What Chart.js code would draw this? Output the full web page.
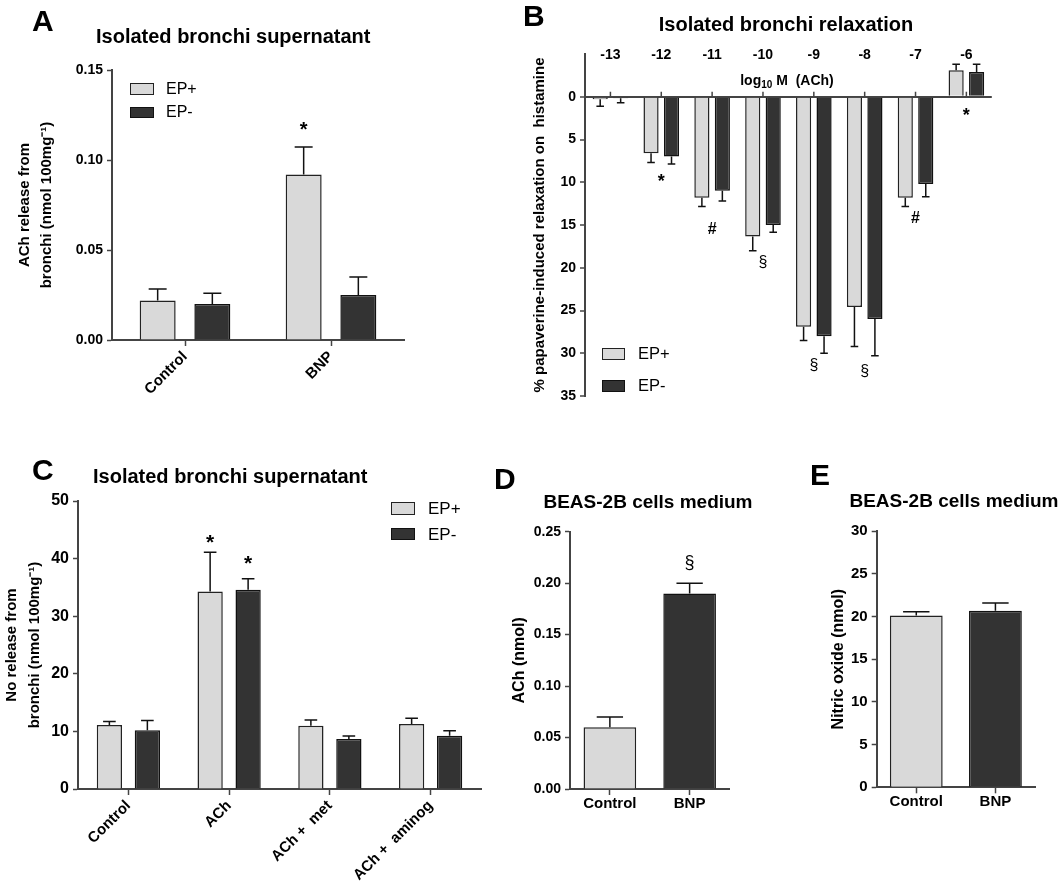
<!DOCTYPE html>
<html>
<head>
<meta charset="utf-8">
<script src="https://cdn.jsdelivr.net/npm/chart.js@4.4.1/dist/chart.umd.min.js"></script>
<style>
  body { margin: 0; background: #fff; }
  #fig { position: relative; width: 1063px; height: 896px; overflow: hidden;
         font-family: Arial, "Liberation Sans", sans-serif; color: #000; }
  #fig canvas { position: absolute; }
  .t { position: absolute; white-space: nowrap; line-height: 1; font-weight: bold; }
  .c { text-align: center; width: 400px; }
  .lg { position: absolute; white-space: nowrap; line-height: 1; }
  .bx { position: absolute; box-sizing: border-box; border: 1.5px solid #222; }
  sub { font-size: 10px; vertical-align: -3px; line-height: 0; }
</style>
</head>
<body>
<div id="fig">
  <canvas id="cA" width="480" height="430" style="left:0;top:0"></canvas>
  <canvas id="cB" width="540" height="430" style="left:500px;top:0"></canvas>
  <canvas id="cC" width="500" height="456" style="left:0;top:440px"></canvas>
  <canvas id="cD" width="260" height="456" style="left:490px;top:440px"></canvas>
  <canvas id="cE" width="273" height="456" style="left:790px;top:440px"></canvas>

  <div class="t" style="left:32px;top:6px;font-size:30px">A</div>
  <div class="t" style="left:523px;top:1px;font-size:30px">B</div>
  <div class="t" style="left:32px;top:455px;font-size:30px">C</div>
  <div class="t" style="left:494px;top:464px;font-size:30px">D</div>
  <div class="t" style="left:810px;top:460px;font-size:30px">E</div>

  <div class="t" style="left:96px;top:26px;font-size:20px">Isolated bronchi supernatant</div>
  <div class="t c" style="left:586px;top:14px;font-size:20px">Isolated bronchi relaxation</div>
  <div class="t" style="left:93px;top:466px;font-size:20px">Isolated bronchi supernatant</div>
  <div class="t c" style="left:448px;top:492px;font-size:19px">BEAS-2B cells medium</div>
  <div class="t c" style="left:754px;top:491px;font-size:19px">BEAS-2B cells medium</div>
  <div class="t c" style="left:587px;top:73px;font-size:14px">log<sub>10</sub> M&nbsp;&nbsp;(ACh)</div>

  <!-- legends -->
  <div class="bx" style="left:130px;top:83px;width:24px;height:11.5px;background:#d9d9d9"></div>
  <div class="bx" style="left:130px;top:106.5px;width:24px;height:11.5px;background:#333;border-color:#111"></div>
  <div class="lg" style="left:166px;top:81px;font-size:16px">EP+</div>
  <div class="lg" style="left:166px;top:104px;font-size:16px">EP-</div>

  <div class="bx" style="left:602px;top:347.5px;width:23px;height:12px;background:#d9d9d9"></div>
  <div class="bx" style="left:602px;top:379.5px;width:23px;height:12px;background:#333;border-color:#111"></div>
  <div class="lg" style="left:638px;top:345px;font-size:16.5px">EP+</div>
  <div class="lg" style="left:638px;top:377px;font-size:16.5px">EP-</div>

  <div class="bx" style="left:391px;top:502px;width:23.5px;height:12.5px;background:#d9d9d9"></div>
  <div class="bx" style="left:391px;top:527.5px;width:23.5px;height:12.5px;background:#333;border-color:#111"></div>
  <div class="lg" style="left:428px;top:500px;font-size:17px">EP+</div>
  <div class="lg" style="left:428px;top:525.5px;font-size:17px">EP-</div>
</div>

<script>
const LIGHT = '#d9d9d9';
const DARK = '#333333';
const AXIS = '#444444';

// A - ACh release, isolated bronchi
const aCats = ['Control', 'BNP'];
const aEpPlus = [0.022, 0.092];
const aEpPlusSem = [0.0064, 0.0152];
const aEpMinus = [0.020, 0.025];
const aEpMinusSem = [0.006, 0.010];

// B - relaxation vs log10 M ACh
const bCats = ['-13', '-12', '-11', '-10', '-9', '-8', '-7', '-6'];
const bEpPlus = [0.3, 6.6, 11.8, 16.35, 26.9, 24.6, 11.8, -3.1];
const bEpPlusSem = [0.8, 1.1, 1.05, 1.65, 1.6, 4.6, 1.05, 0.7];
const bEpMinus = [0.19, 7.0, 11.0, 15.0, 28.0, 26.0, 10.2, -2.9];
const bEpMinusSem = [0.5, 0.86, 1.2, 0.85, 2.0, 4.3, 1.5, 0.9];

// C - NO release, isolated bronchi
const cCats = ['Control', 'ACh', 'ACh +  met', 'ACh +  aminog'];
const cEpPlus = [11.1, 34.3, 11.0, 11.3];
const cEpPlusSem = [0.6, 6.8, 1.0, 1.0];
const cEpMinus = [10.2, 34.6, 8.7, 9.25];
const cEpMinusSem = [1.7, 1.9, 0.5, 0.85];

// D - ACh, BEAS-2B
const dCats = ['Control', 'BNP'];
const dVals = [0.06, 0.19];
const dSem = [0.01, 0.01];

// E - nitric oxide, BEAS-2B
const eCats = ['Control', 'BNP'];
const eVals = [20.1, 20.67];
const eSem = [0.46, 0.9];

Chart.defaults.font.family = 'Arial, "Liberation Sans", sans-serif';
Chart.defaults.color = '#000';

const errorBars = {
  id: 'errorBars',
  afterDatasetsDraw(chart) {
    const ctx = chart.ctx;
    const y = chart.scales.y;
    chart.data.datasets.forEach((ds, di) => {
      if (!ds.sem) return;
      chart.getDatasetMeta(di).data.forEach((bar, i) => {
        const v = ds.data[i];
        const end = y.getPixelForValue(v + (v < 0 ? -1 : 1) * ds.sem[i]);
        const cap = bar.width * 0.25;
        ctx.save();
        ctx.strokeStyle = '#111';
        ctx.lineWidth = 1.5;
        ctx.beginPath();
        ctx.moveTo(bar.x, bar.y);
        ctx.lineTo(bar.x, end);
        ctx.moveTo(bar.x - cap, end);
        ctx.lineTo(bar.x + cap, end);
        ctx.stroke();
        ctx.restore();
      });
    });
  }
};

// significance symbols, placed on the value scale
const marks = {
  id: 'marks',
  afterDatasetsDraw(chart, args, opts) {
    if (!opts.items) return;
    const ctx = chart.ctx;
    const x = chart.scales.x, y = chart.scales.y;
    opts.items.forEach(m => {
      const px = m.ds == null ? x.getPixelForValue(m.i) : chart.getDatasetMeta(m.ds).data[m.i].x;
      const size = m.size || 18;
      const dy = m.t === '*' ? size * 0.23 : 0;
      ctx.save();
      ctx.font = (m.bold ? 'bold ' : '') + size + 'px Arial, "Liberation Sans", sans-serif';
      ctx.fillStyle = '#000';
      ctx.textAlign = 'center';
      ctx.textBaseline = 'middle';
      ctx.fillText(m.t, px, y.getPixelForValue(m.v) + dy);
      ctx.restore();
    });
  }
};

// small upward ticks on the zero line of panel B
const zeroTicks = {
  id: 'zeroTicks',
  afterDatasetsDraw(chart) {
    const ctx = chart.ctx;
    const x = chart.scales.x, y = chart.scales.y;
    const y0 = y.getPixelForValue(0);
    ctx.save();
    ctx.strokeStyle = AXIS;
    ctx.lineWidth = 1.5;
    ctx.beginPath();
    x.ticks.forEach((t, i) => {
      const px = x.getPixelForTick(i);
      ctx.moveTo(px, y0 - 5);
      ctx.lineTo(px, y0);
    });
    ctx.stroke();
    ctx.restore();
  }
};

const bold = size => ({ size: size, weight: 'bold' });

const xAxis = (fontSize, rot, height, pad) => ({
  grid: { display: true, drawOnChartArea: false, offset: false, tickLength: 6, tickColor: AXIS, tickWidth: 1.5 },
  border: { color: AXIS, width: 2 },
  ticks: { font: bold(fontSize), color: '#000', minRotation: rot, maxRotation: rot, padding: pad, autoSkip: false },
  afterFit: s => { s.height = height; }
});

const yAxis = (min, max, step, dec, fontSize, title, titleSize, lh, width) => ({
  min: min, max: max,
  ticks: { stepSize: step, font: bold(fontSize), color: '#000', padding: 4,
           callback: v => v.toFixed(dec) },
  grid: { display: true, drawOnChartArea: false, tickLength: 5, tickColor: AXIS, tickWidth: 1.5 },
  border: { color: AXIS, width: 2 },
  title: { display: true, text: title, font: { size: titleSize, weight: 'bold', lineHeight: lh }, padding: 0, color: '#000' },
  afterFit: s => { s.width = width; }
});

const pairSets = (plus, plusSem, minus, minusSem, cp, bp) => [
  { label: 'EP+', data: plus, sem: plusSem, backgroundColor: LIGHT, borderColor: '#222',
    borderWidth: 1.5, categoryPercentage: cp, barPercentage: bp },
  { label: 'EP-', data: minus, sem: minusSem, backgroundColor: DARK, borderColor: '#111',
    borderWidth: 1.5, categoryPercentage: cp, barPercentage: bp }
];

const baseOpts = (padding, items) => ({
  responsive: false,
  animation: false,
  layout: { padding: padding },
  plugins: { legend: { display: false }, tooltip: { enabled: false }, marks: { items: items } }
});

// A
new Chart(document.getElementById('cA'), {
  type: 'bar',
  data: { labels: aCats, datasets: pairSets(aEpPlus, aEpPlusSem, aEpMinus, aEpMinusSem, 0.749, 0.658) },
  options: Object.assign(baseOpts({ left: 14, top: 70, right: 76, bottom: 0 },
    [{ ds: 0, i: 1, v: 0.119, t: '*', size: 20, bold: true }]), {
    scales: {
      x: xAxis(15, 45, 90, 2),
      y: yAxis(0, 0.15, 0.05, 2, 14, ['ACh release from', 'bronchi (nmol 100mg\u207B\u00B9)'], 15, 1.45, 98)
    }
  }),
  plugins: [errorBars, marks]
});

// B
const bY = yAxis(-5, 35, 5, 0, 14, '% papaverine-induced relaxation on  histamine', 15, 1.2, 54);
bY.reverse = true;
bY.ticks.callback = v => (v < 0 ? '' : String(v));
bY.grid = {
  display: true, drawOnChartArea: true, tickLength: 5, tickWidth: 1.5, lineWidth: 2,
  color: c => (c.tick && c.tick.value === 0 ? AXIS : 'rgba(0,0,0,0)'),
  tickColor: c => (c.tick && c.tick.value < 0 ? 'rgba(0,0,0,0)' : AXIS)
};
new Chart(document.getElementById('cB'), {
  type: 'bar',
  data: { labels: bCats, datasets: pairSets(bEpPlus, bEpPlusSem, bEpMinus, bEpMinusSem, 0.805, 0.74) },
  options: Object.assign(baseOpts({ left: 31, top: 54, right: 48.2, bottom: 34 }, [
    { i: 1, v: 9.47, t: '*', size: 18, bold: true },
    { i: 2, v: 15.5, t: '#', size: 16, bold: true },
    { i: 3, v: 19.4, t: '\u00A7', size: 16 },
    { i: 4, v: 31.5, t: '\u00A7', size: 16 },
    { i: 5, v: 32.1, t: '\u00A7', size: 16 },
    { i: 6, v: 14.2, t: '#', size: 16, bold: true },
    { i: 7, v: 1.75, t: '*', size: 18, bold: true }
  ]), {
    scales: {
      x: {
        position: 'top',
        grid: { display: false, drawTicks: false },
        border: { display: false },
        ticks: { font: bold(14), color: '#000', mirror: true, padding: -7, maxRotation: 0, autoSkip: false },
        afterFit: s => { s.height = 0; }
      },
      y: bY
    }
  }),
  plugins: [errorBars, marks, zeroTicks]
});

// C
new Chart(document.getElementById('cC'), {
  type: 'bar',
  data: { labels: cCats, datasets: pairSets(cEpPlus, cEpPlusSem, cEpMinus, cEpMinusSem, 0.754, 0.665) },
  options: Object.assign(baseOpts({ left: 0, top: 61, right: 19, bottom: 0 }, [
    { ds: 0, i: 1, v: 43.5, t: '*', size: 21, bold: true },
    { ds: 1, i: 1, v: 39.8, t: '*', size: 21, bold: true }
  ]), {
    scales: {
      x: xAxis(15, 45, 107, 2),
      y: yAxis(0, 50, 10, 0, 16, ['No release from', 'bronchi (nmol 100mg\u207B\u00B9)'], 15, 1.55, 78)
    }
  }),
  plugins: [errorBars, marks]
});

// D
new Chart(document.getElementById('cD'), {
  type: 'bar',
  data: { labels: dCats, datasets: [{ data: dVals, sem: dSem, backgroundColor: [LIGHT, DARK],
    borderColor: ['#222', '#111'], borderWidth: 1.5, categoryPercentage: 1, barPercentage: 0.66 }] },
  options: Object.assign(baseOpts({ left: 20.4, top: 91.7, right: 20.5, bottom: 0 }, [
    { ds: 0, i: 1, v: 0.22, t: '\u00A7', size: 18 }
  ]), {
    scales: {
      x: xAxis(15, 0, 107, 0),
      y: yAxis(0, 0.25, 0.05, 2, 14, 'ACh (nmol)', 16, 1.2, 59.6)
    }
  }),
  plugins: [errorBars, marks]
});

// E
new Chart(document.getElementById('cE'), {
  type: 'bar',
  data: { labels: eCats, datasets: [{ data: eVals, sem: eSem, backgroundColor: [LIGHT, DARK],
    borderColor: ['#222', '#111'], borderWidth: 1.5, categoryPercentage: 1, barPercentage: 0.667 }] },
  options: Object.assign(baseOpts({ left: 39.4, top: 91, right: 28, bottom: 0 }, []), {
    scales: {
      x: xAxis(15, 0, 108.7, 0),
      y: yAxis(0, 30, 5, 0, 15, 'Nitric oxide (nmol)', 16, 1.2, 47.3)
    }
  }),
  plugins: [errorBars, marks]
});
</script>
</body>
</html>
